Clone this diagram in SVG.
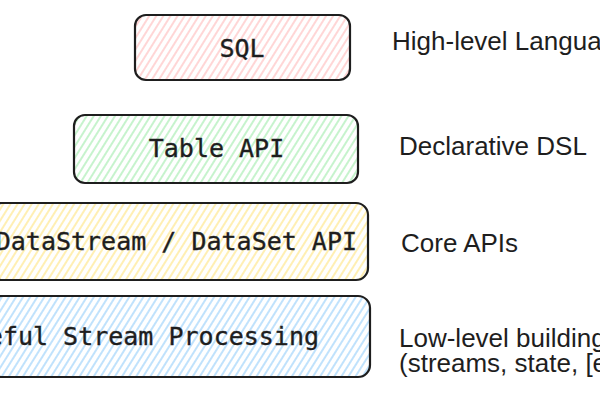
<svg xmlns="http://www.w3.org/2000/svg" width="600" height="400" viewBox="0 0 600 400">
<defs>
<pattern id="hPink" width="6" height="6" patternUnits="userSpaceOnUse" patternTransform="rotate(32)"><line x1="3" y1="0" x2="3" y2="6" stroke="#ffc0c0" stroke-width="1.3"/></pattern>
<pattern id="hGreen" width="6" height="6" patternUnits="userSpaceOnUse" patternTransform="rotate(32)"><line x1="3" y1="0" x2="3" y2="6" stroke="#a8ecb2" stroke-width="1.3"/></pattern>
<pattern id="hYellow" width="6" height="6" patternUnits="userSpaceOnUse" patternTransform="rotate(32)"><line x1="3" y1="0" x2="3" y2="6" stroke="#ffe68a" stroke-width="1.3"/></pattern>
<pattern id="hBlue" width="6" height="6" patternUnits="userSpaceOnUse" patternTransform="rotate(32)"><line x1="3" y1="0" x2="3" y2="6" stroke="#9ed3fb" stroke-width="1.3"/></pattern>
</defs>
<style>
.box{stroke:#1e1e1e;stroke-width:2.2}
.mono{font-family:"DejaVu Sans Mono","Liberation Mono",monospace;font-size:25px;fill:#1e1e1e;stroke:#1e1e1e;stroke-width:0.35}
.lbl{font-family:"Liberation Sans",Arial,sans-serif;font-size:26px;fill:#1e1e1e}
</style>
<rect width="600" height="400" fill="#ffffff"/>
<g id="node-sql">
<rect class="box" x="135" y="15" width="215" height="65" rx="11" fill="url(#hPink)"/>
<text class="mono" x="242" y="57" text-anchor="middle">SQL</text>
</g>
<g id="node-table">
<rect class="box" x="74" y="115" width="284" height="68" rx="11" fill="url(#hGreen)"/>
<text class="mono" x="216.5" y="157" text-anchor="middle">Table API</text>
</g>
<g id="node-datastream">
<rect class="box" x="-10" y="203" width="378" height="77" rx="12" fill="url(#hYellow)"/>
<text class="mono" x="357" y="250" text-anchor="end">DataStream / DataSet API</text>
</g>
<g id="node-stateful">
<rect class="box" x="-10" y="296" width="380" height="81" rx="12" fill="url(#hBlue)"/>
<text class="mono" x="319" y="345" text-anchor="end">Stateful Stream Processing</text>
</g>
<g id="connectors"></g>
<g id="labels">
<text class="lbl" x="392" y="50">High-level Language</text>
<text class="lbl" x="399" y="155">Declarative DSL</text>
<text class="lbl" x="401" y="252">Core APIs</text>
<text class="lbl" x="399" y="347">Low-level building block</text>
<text class="lbl" x="399" y="372">(streams, state, [event] time)</text>
</g>
</svg>
